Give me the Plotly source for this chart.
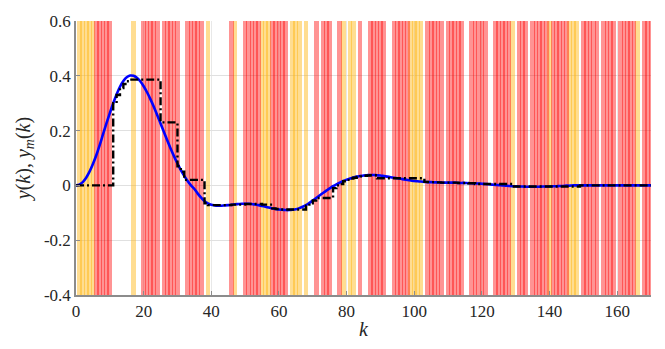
import plotly.graph_objects as go

# --- data ---------------------------------------------------------------
k = list(range(0, 171))

y_vals = [
    0.0, 0.003, 0.012, 0.028, 0.05, 0.078, 0.11, 0.147, 0.187, 0.226,
    0.264, 0.3, 0.332, 0.36, 0.381, 0.395, 0.401, 0.40, 0.393, 0.38,
    0.362, 0.34, 0.315, 0.287, 0.257, 0.226, 0.195, 0.164, 0.134, 0.106,
    0.08, 0.056, 0.035, 0.016, 0.0, -0.013, -0.03, -0.045, -0.058, -0.066,
    -0.071, -0.073, -0.074, -0.074, -0.073, -0.072, -0.071, -0.069, -0.068, -0.067,
    -0.067, -0.067, -0.068, -0.07, -0.072, -0.075, -0.078, -0.081, -0.084, -0.086,
    -0.088, -0.089, -0.09, -0.09, -0.089, -0.087, -0.083, -0.078, -0.072, -0.064,
    -0.055, -0.046, -0.037, -0.028, -0.019, -0.011, -0.003, 0.004, 0.01, 0.016,
    0.021, 0.025, 0.029, 0.032, 0.034, 0.036, 0.037, 0.038, 0.038, 0.037,
    0.036, 0.034, 0.032, 0.03, 0.028, 0.026, 0.024, 0.022, 0.02, 0.018,
    0.016, 0.015, 0.014, 0.013, 0.012, 0.012, 0.011, 0.011, 0.01, 0.01,
    0.01, 0.01, 0.01, 0.009, 0.009, 0.009, 0.008, 0.008, 0.007, 0.007,
    0.006, 0.005, 0.004, 0.003, 0.002, 0.001, 0.0, -0.001, -0.002, -0.003,
    -0.003, -0.004, -0.004, -0.005, -0.005, -0.005, -0.005, -0.005, -0.004, -0.004,
    -0.004, -0.003, -0.003, -0.002, -0.002, -0.001, -0.001, 0.0, 0.0, 0.0,
    0.0, 0.0, 0.0, 0.0, 0.0, 0.0, 0.0, 0.0, 0.0, 0.0,
    0.0, 0.0, 0.0, 0.0, 0.0, 0.0, 0.0, 0.0, 0.0, 0.0,
    0.0,
]

ym_vals = [
    0.0, 0.0, 0.0, 0.0, 0.0, 0.0, 0.0, 0.0, 0.0, 0.0,
    0.0, 0.30, 0.33, 0.355, 0.37, 0.38, 0.386, 0.386, 0.386, 0.386,
    0.386, 0.386, 0.386, 0.386, 0.386, 0.23, 0.23, 0.23, 0.23, 0.23,
    0.07, 0.05, 0.02, 0.02, 0.02, 0.02, 0.02, 0.02, -0.065, -0.072,
    -0.072, -0.072, -0.072, -0.072, -0.072, -0.072, -0.07, -0.07, -0.07, -0.07,
    -0.068, -0.068, -0.068, -0.068, -0.068, -0.07, -0.07, -0.07, -0.084, -0.086,
    -0.088, -0.088, -0.088, -0.088, -0.088, -0.088, -0.088, -0.088, -0.075, -0.065,
    -0.055, -0.046, -0.046, -0.046, -0.046, -0.046, -0.01, 0.0, 0.005, 0.015,
    0.02, 0.025, 0.028, 0.031, 0.033, 0.035, 0.036, 0.037, 0.037, 0.026,
    0.026, 0.026, 0.026, 0.026, 0.026, 0.026, 0.026, 0.026, 0.026, 0.026,
    0.026, 0.026, 0.026, 0.013, 0.012, 0.012, 0.011, 0.011, 0.01, 0.01,
    0.01, 0.01, 0.01, 0.009, 0.009, 0.009, 0.008, 0.008, 0.005, 0.005,
    0.005, 0.005, 0.005, 0.005, 0.005, 0.005, 0.005, 0.005, 0.005, -0.004,
    -0.004, -0.004, -0.004, -0.004, -0.004, -0.004, -0.004, -0.004, -0.004, -0.004,
    -0.004, -0.004, -0.004, -0.004, -0.004, -0.004, -0.004, -0.004, -0.004, 0.0,
    0.0, 0.0, 0.0, 0.0, 0.0, 0.0, 0.0, 0.0, 0.0, 0.0,
    0.0, 0.0, 0.0, 0.0, 0.0, 0.0, 0.0, 0.0, 0.0, 0.0,
    0.0,
]

def expand(ranges):
    out = []
    for a, b in ranges:
        out.extend(range(a, b + 1))
    return out

red_k = expand([(6, 10), (20, 24), (26, 30), (33, 37), (46, 46), (50, 54),
                (58, 62), (71, 71), (73, 75), (78, 78), (84, 84), (87, 91),
                (94, 98), (104, 108), (110, 114), (117, 121), (124, 128),
                (131, 133), (135, 139), (141, 145), (150, 154), (156, 159),
                (161, 165), (168, 170)])
yellow_k = expand([(1, 5), (17, 17), (39, 39), (47, 47), (55, 57), (64, 66),
                   (68, 68), (79, 79), (81, 82), (99, 102), (129, 129),
                   (140, 140), (146, 148), (166, 166)])

x_ticks = [0, 20, 40, 60, 80, 100, 120, 140, 160]
y_ticks = [-0.4, -0.2, 0, 0.2, 0.4, 0.6]
y_tick_text = ["-0.4", "-0.2", "0", "0.2", "0.4", "0.6"]

Y_MIN, Y_MAX = -0.4, 0.6

# --- figure -------------------------------------------------------------
fig = go.Figure()

fig.add_trace(go.Bar(
    x=yellow_k, y=[Y_MAX - Y_MIN] * len(yellow_k), base=Y_MIN,
    width=1.4, marker=dict(color="rgba(255,180,10,0.45)", line=dict(width=0)),
    hoverinfo="skip", showlegend=False,
))
fig.add_trace(go.Bar(
    x=red_k, y=[Y_MAX - Y_MIN] * len(red_k), base=Y_MIN,
    width=1.4, marker=dict(color="rgba(255,0,0,0.42)", line=dict(width=0)),
    hoverinfo="skip", showlegend=False,
))

fig.add_trace(go.Scatter(
    x=k, y=y_vals, mode="lines", line=dict(color="#0000ff", width=2.6, shape="spline"),
    showlegend=False,
))
fig.add_trace(go.Scatter(
    x=k, y=ym_vals, mode="lines",
    line=dict(color="black", width=2.4, shape="hv", dash="8px,3px,2px,3px"),
    showlegend=False,
))

serif = "Liberation Serif"

fig.update_layout(
    width=665, height=349,
    margin=dict(l=76, r=14, t=12, b=54),
    paper_bgcolor="white", plot_bgcolor="white",
    barmode="overlay", bargap=0,
    font=dict(family=serif, size=16, color="#262626"),
)

fig.update_xaxes(
    range=[0, 170], tickvals=x_ticks, ticktext=[str(v) for v in x_ticks],
    showgrid=True, gridcolor="#e8e8e8", gridwidth=1,
    showline=True, linecolor="#8c8c8c", linewidth=1.5,
    ticks="inside", ticklen=4, tickcolor="#8c8c8c",
    zeroline=False,
    tickfont=dict(family=serif, size=17, color="#262626"),
    title=dict(text="<i>k</i>", font=dict(family=serif, size=20, color="#262626"), standoff=2),
)
fig.update_yaxes(
    range=[Y_MIN, Y_MAX], tickvals=y_ticks, ticktext=y_tick_text,
    showgrid=True, gridcolor="#e0e0e0", gridwidth=1,
    showline=True, linecolor="#8c8c8c", linewidth=1.5,
    ticks="inside", ticklen=4, tickcolor="#8c8c8c",
    zeroline=False,
    tickfont=dict(family=serif, size=17, color="#262626"),
    title=dict(text="<i>y</i>(<i>k</i>), <i>y</i><sub><i>m</i></sub>(<i>k</i>)",
               font=dict(family=serif, size=20, color="#262626"), standoff=8),
)

fig.write_html("out.html")
